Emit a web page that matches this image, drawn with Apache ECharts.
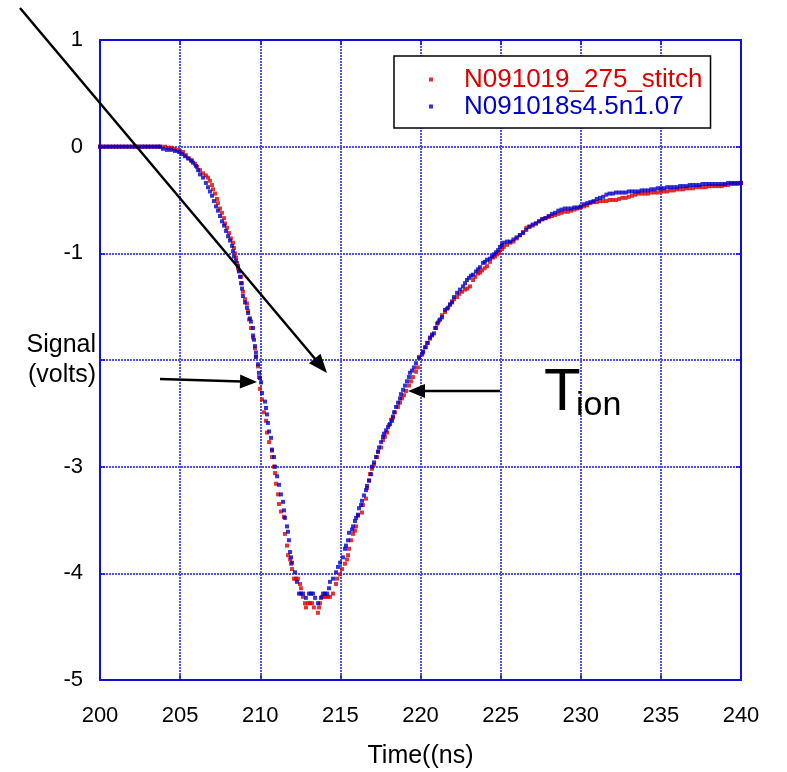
<!DOCTYPE html>
<html>
<head>
<meta charset="utf-8">
<script src="https://cdn.jsdelivr.net/npm/echarts@6/dist/echarts.min.js"></script>
<style>
html,body{margin:0;padding:0;background:#fff;}
#chart{width:787px;height:772px;}
</style>
</head>
<body>
<div id="chart"></div>
<script>
// ---- data (time in ns, signal in volts) ----
const seriesNames = ['N091019_275_stitch', 'N091018s4.5n1.07'];
const xTicks = [200, 205, 210, 215, 220, 225, 230, 235, 240];
const yTicks = [1, 0, -1, -2, -3, -4, -5];
const hiddenYLabels = [-2];

const redPoints = [
[200.0,0],[200.2,0],[200.4,0],[200.6,0],[200.8,0],[201.0,0],[201.2,0],[201.4,0],[201.6,0],[201.8,0],
[202.0,0],[202.2,0],[202.4,0],[202.6,0],[202.8,0],[203.0,0],[203.2,0],[203.4,0],[203.6,0],[203.8,0],
[204.06,0.00],[204.24,-0.01],[204.43,-0.01],[204.62,-0.02],[204.80,-0.03],[204.99,-0.04],[205.18,-0.05],
[205.37,-0.08],[205.55,-0.11],[205.74,-0.13],[205.93,-0.16],[206.05,-0.19],[206.24,-0.22],[206.43,-0.25],
[206.61,-0.27],[206.74,-0.29],[206.86,-0.32],[206.99,-0.36],[207.05,-0.40],[207.18,-0.44],[207.30,-0.49],
[207.36,-0.53],[207.49,-0.58],[207.61,-0.62],[207.74,-0.67],[207.80,-0.72],[207.93,-0.76],[208.05,-0.81],
[208.17,-0.86],[208.30,-0.90],[208.36,-0.95],[208.42,-1.00],[208.49,-1.04],[208.55,-1.09],[208.61,-1.14],
[208.67,-1.16],[208.80,-1.22],[208.86,-1.28],[208.92,-1.36],[209.05,-1.43],[209.17,-1.47],[209.24,-1.54],
[209.30,-1.62],[209.42,-1.70],[209.55,-1.79],[209.67,-1.89],[209.73,-1.97],[209.86,-2.06],[209.92,-2.16],
[209.98,-2.27],[210.11,-2.37],[210.23,-2.49],[210.36,-2.57],[210.42,-2.68],[210.55,-2.77],[210.73,-2.85],
[210.73,-2.91],[210.86,-3.00],[210.92,-3.06],[210.98,-3.16],[211.11,-3.26],[211.17,-3.35],[211.29,-3.42],
[211.48,-3.47],[211.54,-3.63],[211.67,-3.74],[211.73,-3.83],[211.86,-3.87],[211.92,-3.91],[211.98,-3.96],
[212.10,-4.05],[212.22,-4.05],[212.35,-4.05],[212.48,-4.10],[212.54,-4.14],[212.67,-4.22],[212.79,-4.28],
[212.85,-4.32],[212.98,-4.28],[213.10,-4.28],[213.23,-4.28],[213.35,-4.32],[213.60,-4.37],[213.67,-4.32],
[213.73,-4.28],[213.85,-4.22],[213.98,-4.22],[214.10,-4.22],[214.23,-4.22],[214.35,-4.22],[214.54,-4.19],
[214.73,-4.10],[214.79,-4.05],[214.98,-4.01],[215.10,-3.96],[215.29,-3.91],[215.41,-3.87],[215.48,-3.83],
[215.54,-3.77],[215.66,-3.69],[215.79,-3.63],[215.91,-3.60],[215.98,-3.56],[216.10,-3.46],[216.35,-3.43],
[216.41,-3.36],[216.60,-3.30],[216.66,-3.20],[216.79,-3.13],[216.85,-3.07],[216.97,-3.02],[217.10,-2.98],
[217.29,-2.91],[217.35,-2.86],[217.54,-2.82],[217.66,-2.75],[217.78,-2.72],[217.91,-2.68],[218.03,-2.61],
[218.16,-2.56],[218.28,-2.54],[218.41,-2.49],[218.60,-2.44],[218.72,-2.40],[218.85,-2.36],[218.97,-2.33],
[219.10,-2.29],[219.28,-2.24],[219.41,-2.20],[219.53,-2.16],[219.72,-2.11],[219.84,-2.07],[219.91,-1.97],
[220.16,-1.93],[220.34,-1.88],[220.47,-1.84],[220.59,-1.80],[220.72,-1.76],[220.90,-1.70],[221.03,-1.66],
[221.16,-1.63],[221.34,-1.58],[221.53,-1.55],[221.66,-1.52],[221.84,-1.48],[221.97,-1.45],[222.09,-1.43],
[222.28,-1.41],[222.42,-1.38],[222.59,-1.36],[222.78,-1.34],[222.92,-1.33],[223.09,-1.31],[223.28,-1.25],
[223.42,-1.22],[223.59,-1.19],[223.72,-1.18],[223.84,-1.16],[224.00,-1.14],[224.15,-1.12],[224.33,-1.08],
[224.52,-1.04],[224.65,-1.03],[224.78,-1.01],[224.90,-0.99],[225.09,-0.96],
[225.2,-0.94],[225.4,-0.92],[225.6,-0.90],[225.8,-0.89],[226.0,-0.86],[226.2,-0.83],[226.4,-0.80],
[226.6,-0.76],[226.8,-0.75],[227.0,-0.74],[227.2,-0.72],[227.4,-0.70],[227.6,-0.68],[227.8,-0.67],
[228.0,-0.66],[228.2,-0.65],[228.4,-0.64],[228.6,-0.63],[228.8,-0.62],[229.0,-0.61],[229.2,-0.61],
[229.4,-0.60],[229.6,-0.59],[229.8,-0.58],[230.0,-0.57],[230.2,-0.56],[230.4,-0.55],[230.6,-0.53],
[230.8,-0.52],[231.0,-0.52],[231.2,-0.51],[231.4,-0.51],[231.6,-0.51],[231.8,-0.50],[232.0,-0.50],
[232.2,-0.50],[232.4,-0.49],[232.6,-0.48],[232.8,-0.48],[233.0,-0.47],[233.2,-0.46],[233.4,-0.45],
[233.6,-0.44],[233.8,-0.44],[234.0,-0.44],[234.2,-0.44],[234.4,-0.43],[234.6,-0.43],[234.8,-0.43],
[235.0,-0.42],[235.2,-0.42],[235.4,-0.42],[235.6,-0.41],[235.8,-0.41],[236.0,-0.40],[236.2,-0.40],
[236.4,-0.40],[236.6,-0.39],[236.8,-0.39],[237.0,-0.39],[237.2,-0.38],[237.4,-0.38],[237.6,-0.38],
[237.8,-0.38],[238.0,-0.37],[238.2,-0.37],[238.4,-0.37],[238.6,-0.37],[238.8,-0.37],[239.0,-0.36],
[239.2,-0.36],[239.4,-0.35],[239.6,-0.35],[239.8,-0.35],[240.0,-0.34]
];

const bluePoints = [
[200.0,0],[200.2,0],[200.4,0],[200.6,0],[200.8,0],[201.0,0],[201.2,0],[201.4,0],[201.6,0],[201.8,0],
[202.0,0],[202.2,0],[202.4,0],[202.6,0],[202.8,0],[203.0,0],[203.2,0],[203.4,0],[203.6,0],
[203.74,0.00],[203.93,-0.02],[204.18,-0.03],[204.43,-0.03],[204.68,-0.04],[204.93,-0.05],[205.12,-0.07],
[205.30,-0.09],[205.49,-0.11],[205.68,-0.13],[205.80,-0.15],[205.99,-0.18],[206.12,-0.22],[206.24,-0.26],
[206.43,-0.29],[206.61,-0.34],[206.74,-0.38],[206.86,-0.42],[206.99,-0.46],[207.11,-0.51],[207.24,-0.56],
[207.36,-0.60],[207.49,-0.65],[207.61,-0.70],[207.74,-0.74],[207.86,-0.79],[207.99,-0.84],[208.11,-0.88],
[208.24,-0.93],[208.30,-0.98],[208.36,-1.03],[208.49,-1.07],[208.61,-1.12],[208.67,-1.17],[208.74,-1.22],
[208.80,-1.28],[208.86,-1.33],[208.92,-1.40],[209.05,-1.46],[209.17,-1.51],[209.24,-1.56],[209.36,-1.61],
[209.42,-1.64],[209.55,-1.70],[209.55,-1.77],[209.61,-1.81],[209.67,-1.87],[209.73,-1.93],[209.73,-1.97],
[209.86,-2.04],[209.92,-2.12],[209.98,-2.17],[210.05,-2.21],[210.11,-2.31],[210.30,-2.39],[210.36,-2.45],
[210.42,-2.51],[210.48,-2.59],[210.55,-2.67],[210.67,-2.73],[210.73,-2.84],[210.86,-2.91],[210.92,-3.00],
[211.05,-3.09],[211.17,-3.17],[211.29,-3.26],[211.42,-3.33],[211.48,-3.41],[211.54,-3.48],[211.67,-3.56],
[211.73,-3.61],[211.79,-3.69],[211.86,-3.80],[211.92,-3.85],[211.98,-3.90],[212.17,-3.99],[212.29,-4.08],
[212.42,-4.19],[212.54,-4.19],[212.67,-4.19],[212.85,-4.23],[213.04,-4.19],[213.17,-4.19],[213.29,-4.19],
[213.42,-4.23],[213.60,-4.28],[213.79,-4.23],[213.92,-4.19],[214.04,-4.19],[214.17,-4.19],[214.29,-4.14],
[214.35,-4.08],[214.54,-4.05],[214.73,-3.99],[214.85,-3.94],[214.98,-3.90],[215.16,-3.85],[215.29,-3.77],
[215.35,-3.74],[215.48,-3.69],[215.54,-3.62],[215.73,-3.59],[215.79,-3.56],[215.91,-3.51],[215.98,-3.48],
[216.10,-3.45],[216.16,-3.39],[216.29,-3.36],[216.35,-3.32],[216.47,-3.27],[216.60,-3.22],[216.66,-3.18],
[216.79,-3.13],[216.91,-3.07],[216.97,-3.00],[217.10,-2.96],[217.22,-2.91],[217.35,-2.86],[217.41,-2.82],
[217.54,-2.77],[217.66,-2.72],[217.72,-2.69],[217.85,-2.66],[217.97,-2.63],[218.10,-2.60],[218.22,-2.57],
[218.28,-2.53],[218.35,-2.49],[218.47,-2.44],[218.60,-2.40],[218.72,-2.36],[218.78,-2.32],[218.91,-2.28],
[219.03,-2.24],[219.16,-2.20],[219.28,-2.16],[219.34,-2.12],[219.47,-2.10],[219.59,-2.07],[219.72,-2.03],
[219.91,-1.98],[220.09,-1.95],[220.16,-1.92],[220.28,-1.88],[220.41,-1.84],[220.59,-1.79],[220.72,-1.77],
[220.84,-1.75],[220.97,-1.70],[221.09,-1.65],[221.22,-1.62],[221.34,-1.60],[221.53,-1.53],[221.72,-1.51],
[221.84,-1.48],[221.97,-1.46],[222.09,-1.41],[222.28,-1.37],[222.46,-1.34],[222.65,-1.31],[222.78,-1.28],
[222.90,-1.25],[223.03,-1.23],[223.15,-1.21],[223.28,-1.20],[223.46,-1.17],[223.59,-1.15],[223.71,-1.13],
[223.90,-1.09],[224.02,-1.08],[224.15,-1.06],[224.33,-1.05],[224.46,-1.03],[224.58,-1.01],[224.71,-0.99],
[224.84,-0.97],[224.96,-0.94],[225.08,-0.92],
[225.2,-0.90],[225.4,-0.89],[225.6,-0.89],[225.8,-0.87],[226.0,-0.85],[226.2,-0.83],[226.4,-0.81],
[226.6,-0.78],[226.8,-0.75],[227.0,-0.73],[227.2,-0.72],[227.4,-0.70],[227.6,-0.68],[227.8,-0.67],
[228.0,-0.65],[228.2,-0.63],[228.4,-0.62],[228.6,-0.60],[228.8,-0.59],[229.0,-0.58],[229.2,-0.58],
[229.4,-0.58],[229.6,-0.57],[229.8,-0.57],[230.0,-0.56],[230.2,-0.54],[230.4,-0.53],[230.6,-0.52],
[230.8,-0.51],[231.0,-0.49],[231.2,-0.48],[231.4,-0.47],[231.6,-0.45],[231.8,-0.44],[232.0,-0.44],
[232.2,-0.43],[232.4,-0.43],[232.6,-0.43],[232.8,-0.43],[233.0,-0.42],[233.2,-0.42],[233.4,-0.42],
[233.6,-0.42],[233.8,-0.41],[234.0,-0.41],[234.2,-0.41],[234.4,-0.40],[234.6,-0.40],[234.8,-0.39],
[235.0,-0.39],[235.2,-0.39],[235.4,-0.38],[235.6,-0.38],[235.8,-0.38],[236.0,-0.38],[236.2,-0.37],
[236.4,-0.37],[236.6,-0.37],[236.8,-0.36],[237.0,-0.36],[237.2,-0.36],[237.4,-0.36],[237.6,-0.35],
[237.8,-0.35],[238.0,-0.35],[238.2,-0.35],[238.4,-0.35],[238.6,-0.35],[238.8,-0.35],[239.0,-0.35],
[239.2,-0.34],[239.4,-0.34],[239.6,-0.34],[239.8,-0.34],[240.0,-0.34]
];

// ---- styling ----
const FONT = '"Liberation Sans", Arial, sans-serif';
const RED = '#dd0000';
const BLUE = '#0000cc';
const GRID_BLUE = '#5252e2';
const AXIS_BLUE = '#1010d4';

function arrow(x1, y1, x2, y2, headLen, headW, lw) {
  const dx = x2 - x1, dy = y2 - y1;
  const L = Math.sqrt(dx * dx + dy * dy);
  const ux = dx / L, uy = dy / L;
  const bx = x2 - ux * headLen, by = y2 - uy * headLen;
  const px = -uy, py = ux;
  return [
    { type: 'line', silent: true, z: 100,
      shape: { x1: x1, y1: y1, x2: bx + ux * 2, y2: by + uy * 2 },
      style: { stroke: '#000', lineWidth: lw } },
    { type: 'polygon', silent: true, z: 100,
      shape: { points: [[x2, y2], [bx + px * headW / 2, by + py * headW / 2], [bx - px * headW / 2, by - py * headW / 2]] },
      style: { fill: '#000' } }
  ];
}

const chart = echarts.init(document.getElementById('chart'), null, { renderer: 'canvas' });

const axisCommon = {
  axisLine: { show: true, onZero: false, lineStyle: { color: AXIS_BLUE, width: 2 } },
  axisTick: { show: true, inside: true, length: 5, lineStyle: { color: AXIS_BLUE, width: 1.5 } }
};

const option = {
  animation: false,
  backgroundColor: '#fff',
  textStyle: { fontFamily: FONT },
  grid: { left: 100, right: 46, top: 40, bottom: 92, containLabel: false, outerBoundsMode: 'none' },
  legend: {
    orient: 'vertical',
    left: 394, top: 56,
    padding: [10, 8, 8, 35],
    itemGap: 0,
    itemWidth: 4, itemHeight: 4,
    icon: 'rect',
    backgroundColor: '#fff',
    borderColor: '#000', borderWidth: 1.5,
    selectedMode: false,
    formatter: function (name) { return '{g|}' + name; },
    textStyle: { fontFamily: FONT, fontSize: 26, lineHeight: 27,
      rich: { g: { width: 26, lineHeight: 27 } } },
    data: [
      { name: seriesNames[0], textStyle: { color: RED } },
      { name: seriesNames[1], textStyle: { color: BLUE } }
    ]
  },
  xAxis: [
    Object.assign({
      type: 'value', min: xTicks[0], max: xTicks[xTicks.length - 1], interval: 5,
      position: 'bottom',
      name: 'Time((ns)', nameLocation: 'middle', nameGap: 64, nameMoveOverlap: false,
      nameTextStyle: { fontFamily: FONT, fontSize: 25, color: '#000' },
      axisLabel: { fontFamily: FONT, fontSize: 22, color: '#000', margin: 25 },
      splitLine: { show: true, lineStyle: { color: GRID_BLUE, width: 2, type: [2, 1] } }
    }, axisCommon),
    Object.assign({
      type: 'value', min: xTicks[0], max: xTicks[xTicks.length - 1], interval: 5,
      position: 'top', axisLabel: { show: false }, splitLine: { show: false }
    }, axisCommon)
  ],
  yAxis: [
    Object.assign({
      type: 'value', min: yTicks[yTicks.length - 1], max: yTicks[0], interval: 1,
      position: 'left',
      name: 'Signal\n(volts)', nameLocation: 'middle', nameRotate: 0, nameGap: 4, nameMoveOverlap: false,
      nameTextStyle: { fontFamily: FONT, fontSize: 25, color: '#000', lineHeight: 30, align: 'right' },
      axisLabel: { fontFamily: FONT, fontSize: 22, color: '#000', margin: 17,
        formatter: function (v) { return hiddenYLabels.indexOf(v) >= 0 ? '' : String(v); } },
      splitLine: { show: true, lineStyle: { color: GRID_BLUE, width: 2, type: [2, 1] } }
    }, axisCommon),
    Object.assign({
      type: 'value', min: yTicks[yTicks.length - 1], max: yTicks[0], interval: 1,
      position: 'right', axisLabel: { show: false }, splitLine: { show: false }
    }, axisCommon)
  ],
  series: [
    { name: seriesNames[0], type: 'scatter', xAxisIndex: 0, yAxisIndex: 0,
      symbol: 'rect', symbolSize: 4, itemStyle: { color: RED }, data: redPoints, z: 3 },
    { name: seriesNames[1], type: 'scatter', xAxisIndex: 0, yAxisIndex: 0,
      symbol: 'rect', symbolSize: 4, itemStyle: { color: BLUE }, data: bluePoints, z: 4 }
  ],
  graphic: [].concat(
    arrow(20, 8, 327, 373, 19, 15, 2.5),
    arrow(160, 379, 257, 382, 17, 14, 2.5),
    arrow(500, 391, 408, 391, 17, 14, 2.5),
    [
      { type: 'text', x: 544, y: 393, z: 100, silent: true,
        style: { text: 'T', fontSize: 60, fontFamily: FONT, fill: '#000', verticalAlign: 'middle' } },
      { type: 'text', x: 576, y: 406, z: 100, silent: true,
        style: { text: 'ion', fontSize: 34, fontFamily: FONT, fill: '#000', verticalAlign: 'middle' } }
    ]
  )
};

chart.setOption(option);
</script>
</body>
</html>
